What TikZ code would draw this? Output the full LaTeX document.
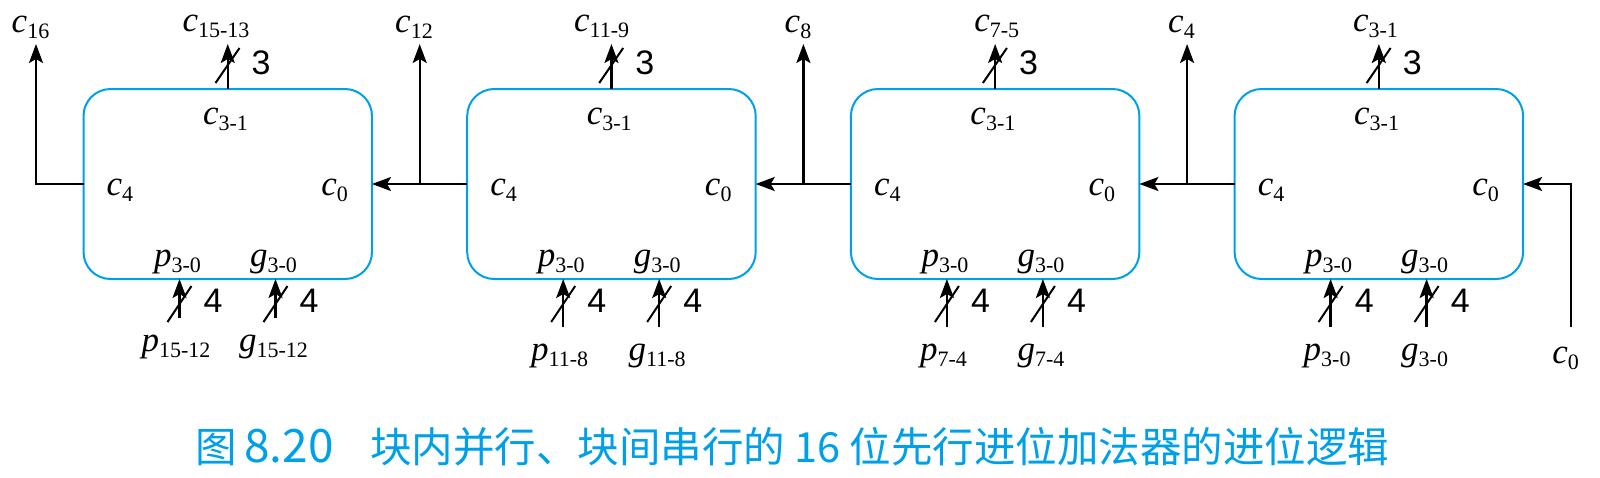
\documentclass[tikz,border=0pt]{standalone}
\usepackage{fontspec}
\setmainfont{Liberation Serif}
\newfontfamily\cjkfont{Noto Sans CJK SC}
\newfontfamily\numsans{Liberation Sans}
\usetikzlibrary{arrows.meta}
\definecolor{boxcyan}{RGB}{0,160,233}
\newcommand\vlab[2]{\textit{#1}\raisebox{-6pt}{\fontsize{22}{22}\selectfont #2}}
\begin{document}
\begin{tikzpicture}[x=1pt,y=-1pt,
  blk/.style={draw=boxcyan, line width=2pt, rounded corners=27pt, minimum width=288.5pt, minimum height=190pt, inner sep=0pt, outer sep=0pt, anchor=north west},
  wire/.style={line width=2.3pt},
  arr/.style={wire, -{Stealth[length=19pt,width=14pt,inset=4pt]}},
  lab/.style={inner sep=0pt, anchor=base, font=\fontsize{35}{40}\selectfont},
  num/.style={inner sep=0pt, anchor=base west, font=\numsans\fontsize{34}{40}\selectfont},
  slash/.style={line width=2pt},
  captext/.style={inner sep=0pt, anchor=base west, text=boxcyan, font=\cjkfont\fontsize{41.5}{44}\selectfont}]
\useasboundingbox (0,0) rectangle (1600,477);
\foreach \i/\L/\tl/\tx/\bl/\sy/\by in {1/83.5/15-13/216/15-12/318/351, 2/467.2/11-9/601.7/11-8/327/360, 3/850.9/7-5/996.7/7-4/327/360, 4/1234.6/3-1/1375.5/3-0/327/360}{
  \node[blk] (b\i) at (\L,89) {};
  \coordinate (tt\i) at (\L+144.25,44);
  \draw[arr] (b\i.north) -- (tt\i);
  \draw[slash] (\L+132,83) -- (\L+156,48);
  \node[num] (n3\i) at (\L+168,74) {3};
  \node[lab] (tl\i) at (\tx,31) {\vlab{c}{\tl}};
  \node[lab] (ic\i) at (\L+142,124) {\vlab{c}{3-1}};
  \node[lab,anchor=base west] (ic4\i) at (\L+23,195) {\vlab{c}{4}};
  \node[lab,anchor=base east] (ic0\i) at (\L+264.5,195) {\vlab{c}{0}};
  \node[lab] (ip\i) at (\L+94,266) {\vlab{p}{3-0}};
  \node[lab] (ig\i) at (\L+190,266) {\vlab{g}{3-0}};
  \coordinate (ps\i) at (\L+96,\sy);
  \coordinate (gs\i) at (\L+192,\sy);
  \draw[arr] (ps\i) -- (ps\i |- b\i.south);
  \draw[arr] (gs\i) -- (gs\i |- b\i.south);
  \draw[slash] (\L+84,322) -- (\L+108,286);
  \draw[slash] (\L+180,322) -- (\L+204,286);
  \node[num] (n4p\i) at (\L+120,312) {4};
  \node[num] (n4g\i) at (\L+216,312) {4};
  \node[lab] (bp\i) at (\L+92.5,\by) {\vlab{p}{\bl}};
  \node[lab] (bg\i) at (\L+190,\by) {\vlab{g}{\bl}};
  \coordinate (j\i) at (\L-47.5,184);
  \coordinate (jt\i) at (\L-47.5,44);
}
% junction outputs
\draw[arr] (b1.west) -- (j1) -- (jt1);
\draw[arr] (b2.west) -- (b1.east);
\draw[arr] (j2) -- (jt2);
\draw[arr] (b3.west) -- (b2.east);
\draw[arr] (j3) -- (jt3);
\draw[arr] (b4.west) -- (b3.east);
\draw[arr] (j4) -- (jt4);
\node[lab] (c16) at (30.5,32) {\vlab{c}{16}};
\node[lab] (c12) at (414,32) {\vlab{c}{12}};
\node[lab] (c8) at (798,32) {\vlab{c}{8}};
\node[lab] (c4o) at (1181.5,32) {\vlab{c}{4}};
% carry input
\coordinate (cin) at (1571,327);
\draw[arr] (cin) |- (b4.east);
\node[lab] (c0in) at (1565.5,363) {\vlab{c}{0}};
% caption
\node[captext] (cap1) at (195,462) {图};
\node[captext, font=\cjkfont\fontsize{46}{50}\selectfont] (cap2) at (244,462) {8.20};
\node[captext] (cap3) at (370,462) {块内并行、块间串行的 16 位先行进位加法器的进位逻辑};
\end{tikzpicture}
\end{document}
